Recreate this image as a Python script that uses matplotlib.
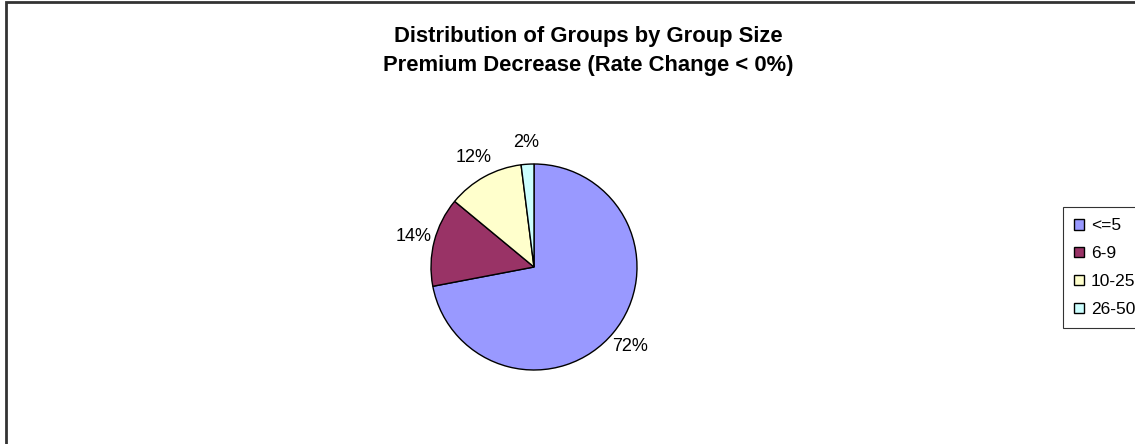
import matplotlib.pyplot as plt
from matplotlib.patches import Rectangle

plt.rcParams["font.family"] = ["Liberation Sans", "DejaVu Sans"]

group_sizes = ["<=5", "6-9", "10-25", "26-50"]
shares = [72, 14, 12, 2]
colors = ["#9999FF", "#993366", "#FFFFCC", "#CCFFFF"]

W, H = 1135, 444
fig = plt.figure(figsize=(W / 100, H / 100), dpi=100)

# chart frame, runs off the right and bottom edges
fig.patches.append(Rectangle((5.5 / W, -0.1), 1.2, 1.1 - 2.5 / H,
                             transform=fig.transFigure, fill=False,
                             edgecolor="#333333", linewidth=2))

fig.text(588 / W, 1 - 36 / H, "Distribution of Groups by Group Size",
         ha="center", va="center", fontsize=15.8, fontweight="bold")
fig.text(588 / W, 1 - 66 / H, "Premium Decrease (Rate Change < 0%)",
         ha="center", va="center", fontsize=15.8, fontweight="bold")

cx, cy, r = 534, 267, 103
ax = fig.add_axes([(cx - r) / W, (H - cy - r) / H, 2 * r / W, 2 * r / H])
wedges, texts, autotexts = ax.pie(
    shares,
    colors=colors,
    startangle=90,
    counterclock=False,
    autopct="%.0f%%",
    pctdistance=1.21,
    wedgeprops={"edgecolor": "black", "linewidth": 1},
    textprops={"fontsize": 13},
)
ax.set_xlim(-1, 1)
ax.set_ylim(-1, 1)
ax.set_aspect("equal")
ax.axis("off")

leg = fig.legend(wedges, group_sizes,
                 loc="upper left",
                 bbox_to_anchor=(1063 / W, 1 - 207 / H),
                 fontsize=12.5,
                 frameon=True,
                 fancybox=False,
                 edgecolor="black",
                 handlelength=0.55,
                 handleheight=0.55,
                 handletextpad=0.4,
                 labelspacing=0.74,
                 borderpad=0.66,
                 borderaxespad=0)
leg.get_frame().set_linewidth(0.8)

fig.savefig("out.png", dpi=100)
